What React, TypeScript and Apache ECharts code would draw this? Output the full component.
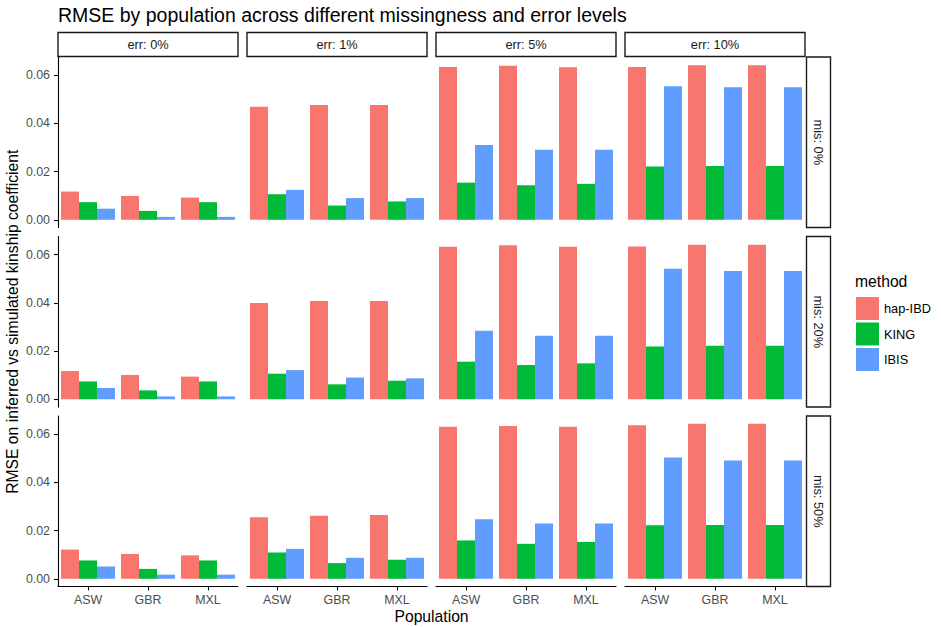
import React, { useEffect, useRef } from "react";
import * as echarts from "echarts";

const populations = ["ASW", "GBR", "MXL"];
const errLevels = ["err: 0%", "err: 1%", "err: 5%", "err: 10%"];
const misLevels = ["mis: 0%", "mis: 20%", "mis: 50%"];
const methods = ["hap-IBD", "KING", "IBIS"];
const methodColors = ["#F8766D", "#00BA38", "#619CFF"];
const yTickValues = [0, 0.02, 0.04, 0.06];

// values per err level: [ASW, GBR, MXL]
const hapIBD_mis0 = [[0.0117, 0.0099, 0.0092], [0.0469, 0.0476, 0.0476], [0.0634, 0.0639, 0.0632], [0.0634, 0.0641, 0.0641]];
const king_mis0 = [[0.0073, 0.0037, 0.0073], [0.0106, 0.0059, 0.0076], [0.0154, 0.0143, 0.0149], [0.0221, 0.0223, 0.0223]];
const ibis_mis0 = [[0.0046, 0.0012, 0.0012], [0.0124, 0.009, 0.009], [0.031, 0.029, 0.029], [0.0554, 0.055, 0.055]];

const hapIBD_mis20 = [[0.0117, 0.0101, 0.0094], [0.0399, 0.0408, 0.0408], [0.0632, 0.0639, 0.0632], [0.0634, 0.0641, 0.0641]];
const king_mis20 = [[0.0074, 0.0037, 0.0074], [0.0106, 0.0062, 0.0077], [0.0156, 0.0142, 0.0149], [0.0219, 0.0222, 0.0222]];
const ibis_mis20 = [[0.0047, 0.0012, 0.0012], [0.0121, 0.009, 0.0087], [0.0284, 0.0263, 0.0263], [0.0541, 0.0532, 0.0532]];

const hapIBD_mis50 = [[0.0121, 0.0103, 0.0097], [0.0255, 0.0261, 0.0265], [0.063, 0.0634, 0.063], [0.0637, 0.0643, 0.0643]];
const king_mis50 = [[0.0076, 0.0041, 0.0076], [0.0109, 0.0065, 0.0079], [0.0159, 0.0145, 0.0153], [0.0222, 0.0223, 0.0223]];
const ibis_mis50 = [[0.0051, 0.0017, 0.0017], [0.0124, 0.0087, 0.0087], [0.0247, 0.0229, 0.0229], [0.0503, 0.049, 0.049]];

const rowsData = [
  [hapIBD_mis0, king_mis0, ibis_mis0],
  [hapIBD_mis20, king_mis20, ibis_mis20],
  [hapIBD_mis50, king_mis50, ibis_mis50],
];

const FONT = "'Liberation Sans', Arial, Helvetica, sans-serif";

export default function App() {
  const ref = useRef<HTMLDivElement>(null);

  useEffect(() => {
    document.body.style.margin = "0";
    const chart = echarts.init(ref.current!, undefined, { renderer: "svg" });

    const colX = [58, 247, 436, 625];
    const rowY = [57, 236.5, 416];
    const panelW = 180;
    const panelH = 170.5;

    const grids: any[] = [];
    const xAxes: any[] = [];
    const yAxes: any[] = [];
    const series: any[] = [];
    const graphics: any[] = [];

    let idx = 0;
    for (let r = 0; r < 3; r++) {
      for (let c = 0; c < 4; c++) {
        grids.push({ left: colX[c], top: rowY[r], width: panelW, height: panelH, containLabel: false });
        const bottomRow = r === 2;
        const leftCol = c === 0;
        xAxes.push({
          type: "category",
          gridIndex: idx,
          data: populations,
          axisLine: { show: bottomRow, onZero: false, lineStyle: { color: "#000", width: 1.1 } },
          axisTick: { show: bottomRow, alignWithLabel: true, length: 4, lineStyle: { color: "#000", width: 1.1 } },
          axisLabel: { show: bottomRow, color: "#4d4d4d", fontSize: 12.4, fontFamily: FONT, margin: 7 },
          splitLine: { show: false },
        });
        yAxes.push({
          type: "value",
          gridIndex: idx,
          min: -0.0032,
          max: 0.0675,
          axisLine: { show: leftCol, lineStyle: { color: "#000", width: 1.1 } },
          axisTick: { show: leftCol, length: 4, customValues: yTickValues, lineStyle: { color: "#000", width: 1.1 } },
          axisLabel: {
            show: leftCol,
            customValues: yTickValues,
            color: "#4d4d4d",
            fontSize: 12.4,
            fontFamily: FONT,
            margin: 8,
            formatter: (v: number) => v.toFixed(2),
          },
          splitLine: { show: false },
        });
        for (let m = 0; m < 3; m++) {
          series.push({
            type: "bar",
            name: methods[m],
            xAxisIndex: idx,
            yAxisIndex: idx,
            data: rowsData[r][m][c],
            barGap: "0%",
            barCategoryGap: "10%",
            itemStyle: { color: methodColors[m] },
            emphasis: { disabled: true },
          });
        }
        idx++;
      }
    }

    // top strips
    for (let c = 0; c < 4; c++) {
      graphics.push({
        type: "rect",
        shape: { x: colX[c], y: 32.5, width: panelW, height: 24 },
        style: { fill: "#fff", stroke: "#1a1a1a", lineWidth: 1.4 },
      });
      graphics.push({
        type: "text",
        x: colX[c] + panelW / 2,
        y: 44.5,
        style: { text: errLevels[c], fill: "#1a1a1a", font: `12.8px ${FONT}`, textAlign: "center", textVerticalAlign: "middle" },
      });
    }
    // right strips
    for (let r = 0; r < 3; r++) {
      graphics.push({
        type: "rect",
        shape: { x: 806.5, y: rowY[r], width: 24, height: panelH },
        style: { fill: "#fff", stroke: "#1a1a1a", lineWidth: 1.4 },
      });
      graphics.push({
        type: "text",
        x: 818.5,
        y: rowY[r] + panelH / 2,
        rotation: -Math.PI / 2,
        style: { text: misLevels[r], fill: "#1a1a1a", font: `12.8px ${FONT}`, textAlign: "center", textVerticalAlign: "middle" },
      });
    }
    // title
    graphics.push({
      type: "text",
      x: 58,
      y: 15,
      style: {
        text: "RMSE by population across different missingness and error levels",
        fill: "#000",
        font: `19.5px ${FONT}`,
        textAlign: "left",
        textVerticalAlign: "middle",
      },
    });
    // axis titles
    graphics.push({
      type: "text",
      x: 12,
      y: 321.75,
      rotation: Math.PI / 2,
      style: {
        text: "RMSE on inferred vs simulated kinship coefficient",
        fill: "#000",
        font: `15.7px ${FONT}`,
        textAlign: "center",
        textVerticalAlign: "middle",
      },
    });
    graphics.push({
      type: "text",
      x: 431.5,
      y: 616,
      style: { text: "Population", fill: "#000", font: `15.7px ${FONT}`, textAlign: "center", textVerticalAlign: "middle" },
    });
    // legend title
    graphics.push({
      type: "text",
      x: 855,
      y: 281,
      style: { text: "method", fill: "#000", font: `15.7px ${FONT}`, textAlign: "left", textVerticalAlign: "middle" },
    });

    chart.setOption({
      animation: false,
      grid: grids,
      xAxis: xAxes,
      yAxis: yAxes,
      series,
      legend: {
        data: methods,
        orient: "vertical",
        left: 856,
        top: 297,
        itemWidth: 23,
        itemHeight: 23,
        itemGap: 2.5,
        itemTextGap: 10,
        icon: "rect",
        padding: 0,
        textStyle: { color: "#000", fontSize: 12.8, fontFamily: FONT },
      },
      graphic: graphics,
    });

    return () => chart.dispose();
  }, []);

  return <div ref={ref} style={{ width: 941, height: 627 }} />;
}
